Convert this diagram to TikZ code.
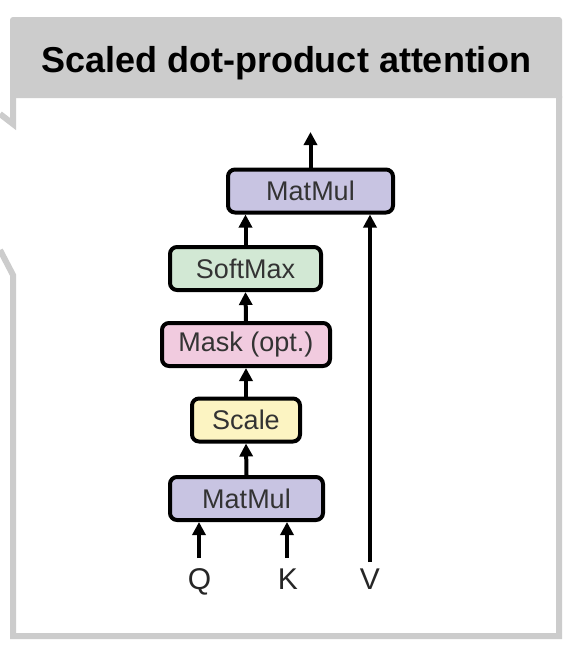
\documentclass[tikz,border=0pt]{standalone}
\usepackage{fontspec}
\setmainfont{Liberation Sans}
\usetikzlibrary{arrows.meta}
\definecolor{framegray}{HTML}{CCCCCC}
\definecolor{mmfill}{HTML}{C8C4E2}
\definecolor{smfill}{HTML}{D2E8D4}
\definecolor{mkfill}{HTML}{F1CBDF}
\definecolor{scfill}{HTML}{FCF4C2}
\begin{document}
\begin{tikzpicture}[x=1pt,y=-1pt,
  box/.style={draw=black,line width=4pt,rounded corners=7pt,minimum height=43pt,inner sep=0pt,
    font=\fontsize{27}{31}\selectfont,text=black!80},
  arr/.style={line width=4pt,-{Triangle[width=13pt,length=13pt]}},
  lbl/.style={font=\fontsize{30}{34}\selectfont,text=black!85,anchor=base},
  frameline/.style={draw=framegray,line width=6pt,line join=miter}]
\useasboundingbox (0,0) rectangle (572,646);
\fill[white] (0,0) rectangle (572,646);
% frame
\fill[framegray] (10,98) {[rounded corners=3pt] -- (10,17) -- (562,17)} -- (562,98) -- cycle;
\draw[frameline] (0,114) -- (13,124) -- (13,96);
\draw[frameline] (0,250) -- (13,275) -- (13,636) -- (559,636) -- (559,96);
\node[font=\fontsize{36}{40}\selectfont\bfseries] (title) at (286,63) {Scaled dot-product attention};
% boxes
\node[box,fill=mmfill,minimum width=165pt] (mm2) at (310.5,191) {MatMul};
\node[box,fill=smfill,minimum width=151pt] (sm) at (245.5,268.5) {SoftMax};
\node[box,fill=mkfill,minimum width=168pt] (mk) at (246,344.5) {Mask (opt.)};
\node[box,fill=scfill,minimum width=108pt] (sc) at (246,420) {Scale};
\node[box,fill=mmfill,minimum width=153pt] (mm1) at (246.5,498.5) {MatMul};
% inputs
\coordinate (qs) at (199,558);
\coordinate (ks) at (287,558);
\coordinate (vs) at (370,562);
\coordinate (out) at (310.5,132);
\node[lbl] (q) at (199.5,589) {Q};
\node[lbl] (k) at (288,589) {K};
\node[lbl] (v) at (370,589) {V};
% arrows
\draw[arr] (qs) -- (qs |- mm1.south);
\draw[arr] (ks) -- (ks |- mm1.south);
\draw[arr] (mm1.north) -- (sc.south);
\draw[arr] (sc.north) -- (mk.south);
\draw[arr] (mk.north) -- (sm.south);
\draw[arr] (sm.north) -- (sm.north |- mm2.south);
\draw[arr] (vs) -- (vs |- mm2.south);
\draw[arr] (mm2.north) -- (out);
\end{tikzpicture}
\end{document}
